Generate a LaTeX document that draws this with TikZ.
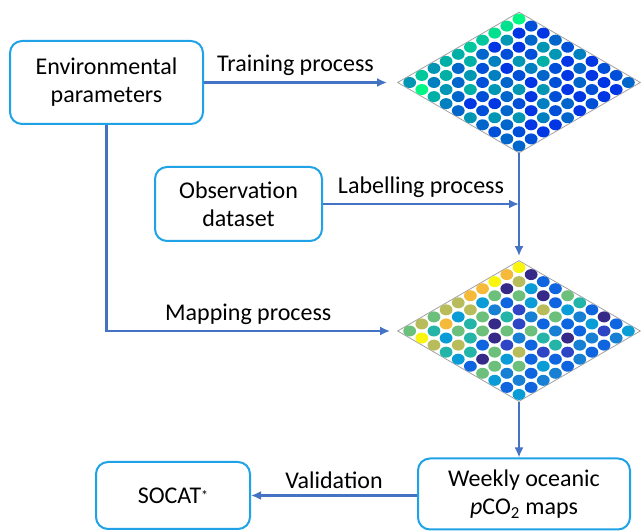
\documentclass[tikz,border=0pt]{standalone}
\usepackage{fontspec}
\setmainfont{Carlito}
\usetikzlibrary{shapes.geometric,arrows.meta,positioning,calc}
\definecolor{cframe}{HTML}{1FA2E6}
\definecolor{cflow}{HTML}{4472C4}
\definecolor{cgrid}{HTML}{A0A0A0}
% end points of the winter scale
\definecolor{wblue}{HTML}{0000FF}
\definecolor{wgreen}{HTML}{00FF80}
% parula steps
\definecolor{pa0}{HTML}{352A87}
\definecolor{pa1}{HTML}{2E45C6}
\definecolor{pa2}{HTML}{0F64E0}
\definecolor{pa3}{HTML}{1780D4}
\definecolor{pa4}{HTML}{0A9CD6}
\definecolor{pa5}{HTML}{24B4A8}
\definecolor{pa6}{HTML}{6CC07C}
\definecolor{pa7}{HTML}{B8BC5A}
\definecolor{pa8}{HTML}{F5BA3A}
\definecolor{pa9}{HTML}{F9F50E}

\begin{document}
\begin{tikzpicture}[x=1pt,y=1pt,font=\fontsize{24}{28}\selectfont,>={Latex[length=10pt,width=9pt]}]
  \tikzstyle{box}=[draw=cframe,line width=2pt,rounded corners=12pt,align=center]
  \tikzstyle{som}=[draw=cgrid,line width=0.8pt,diamond,inner sep=0pt,minimum width=243pt,minimum height=141pt]
  \tikzstyle{flow}=[->,draw=cflow,line width=2.8pt]
  \tikzstyle{lbl}=[above,yshift=2pt]
  \useasboundingbox (0,0) rectangle (641,531);

  \node[box,minimum width=193pt,minimum height=83pt] (env) at (106.5,448.5) {Environmental\\parameters};
  \node[som] (som1) at (519,448.5) {};
  \node[box,minimum width=167pt,minimum height=74pt] (obs) at (238.5,327) {Observation\\dataset};
  \node[som] (som2) at (519,200) {};
  \node[box,minimum width=212pt,minimum height=71pt] (weekly) at (524,37) {Weekly oceanic\\\textit{p}CO\textsubscript{2} maps};
  \node[box,minimum width=154pt,minimum height=67pt] (socat) at (173,35.5) {SOCAT\raisebox{3pt}{\fontsize{14}{14}\selectfont *}};

  % trained map (winter scale)
  \begin{scope}[shift={(som1.center)}]
    \foreach \row [count=\j from 0] in {{5,7,5,6,6,7,7,8,8,9},{9,4,6,3,6,3,1,5,1,2},
        {6,5,3,5,2,4,2,1,3,1},{4,3,6,2,4,1,5,2,5,3},{3,1,2,5,3,2,4,6,5,2},
        {5,2,1,3,5,1,3,2,1,4},{3,5,3,2,1,5,2,1,3,1},{2,3,5,1,4,2,1,3,1,2},
        {3,2,1,4,2,3,1,2,1,2},{3,2,1,1,3,1,2,1,1,3}}
      \foreach \v [count=\i from 0] in \row {
        \pgfmathtruncatemacro\p{12+\v*9.5}
        \fill[wgreen!\p!wblue] ({-121.5+12.15*(\i+\j+1)},{7.05*(\i-\j)}) ellipse [x radius=6.4,y radius=5.5];
      }
  \end{scope}

  % labelled map (parula scale)
  \begin{scope}[shift={(som2.center)}]
    \foreach \row [count=\j from 0] in {{6,7,6,7,7,8,8,9,8,9},{9,5,8,4,7,4,6,0,7,0},
        {7,4,6,5,6,3,2,6,4,2},{5,7,5,6,0,5,1,4,0,2},{4,5,2,0,6,1,3,7,2,6},
        {2,0,6,1,3,6,2,6,4,5},{6,6,4,7,2,5,3,2,3,2},{4,3,6,2,1,5,0,2,4,0},
        {2,3,2,4,2,1,3,3,1,2},{4,2,3,3,2,3,2,2,3,4}}
      \foreach \v [count=\i from 0] in \row
        \fill[pa\v] ({-121.5+12.15*(\i+\j+1)},{7.05*(\i-\j)}) ellipse [x radius=6.4,y radius=5.5];
  \end{scope}

  \draw[flow] (env.east) -- node[lbl]{Training process} ([xshift=-10pt]som1.west);
  \draw[flow] (som1.south) -- ([yshift=4pt]som2.north);
  \draw[flow] (obs.east) -- node[lbl]{Labelling process} (obs.east -| som1.south);
  \draw[flow] (env.south) |- node[lbl,pos=0.75]{Mapping process} ([xshift=-7pt]som2.west);
  \draw[flow] (som2.south) -- (som2.south |- weekly.north);
  \draw[flow] (weekly.west |- socat) -- node[lbl]{Validation} (socat.east);
\end{tikzpicture}
\end{document}
